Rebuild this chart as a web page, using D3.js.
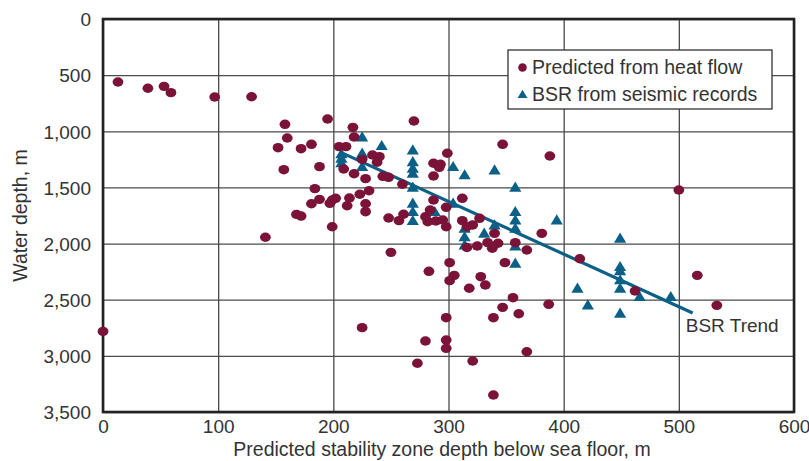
<!DOCTYPE html>
<html>
<head>
<meta charset="utf-8">
<script src="https://cdn.jsdelivr.net/npm/d3@7"></script>
<style>
  body { margin: 0; background: #fff; }
  text { font-family: "Liberation Sans Narrow", "Liberation Sans", sans-serif; fill: #333; }
</style>
</head>
<body>
<div id="chart"></div>
<script>
// heat-flow predictions: [stability zone depth (m), water depth (m)]
var heatFlow = [
  [0, 2782], [13, 561], [39, 617], [53, 600], [59, 656], [97, 695], [129, 692],
  [158, 938], [195, 891], [217, 965], [218, 1051], [160, 1060], [152, 1146],
  [172, 1155], [181, 1116], [157, 1342], [188, 1315], [205, 1137], [211, 1137],
  [225, 1250], [209, 1336], [218, 1378], [228, 1422], [234, 1211], [240, 1226],
  [238, 1276], [243, 1401], [248, 1410], [260, 1472], [270, 908], [184, 1511],
  [188, 1606], [181, 1645], [197, 1642], [199, 1612], [202, 1597], [214, 1594],
  [212, 1663], [223, 1561], [231, 1530], [228, 1645], [228, 1716], [168, 1740],
  [172, 1755], [199, 1850], [141, 1944], [248, 1772], [257, 1796], [261, 1739],
  [250, 2078], [299, 1196], [287, 1285], [293, 1294], [292, 1321], [287, 1398],
  [312, 1597], [298, 1677], [287, 1612], [284, 1701], [280, 1761], [282, 1805],
  [289, 1799], [295, 1790], [298, 1850], [312, 1796], [316, 1850], [321, 1834],
  [327, 1775], [316, 2035], [301, 2170], [283, 2247], [305, 2283], [301, 2330],
  [318, 2398], [347, 1116], [388, 1220], [340, 1909], [334, 1992], [338, 2042],
  [343, 1997], [325, 2022], [358, 1992], [368, 2057], [381, 1909], [414, 2135],
  [349, 2170], [328, 2295], [332, 2369], [356, 2482], [347, 2568], [361, 2625],
  [387, 2541], [339, 2660], [298, 2660], [280, 2868], [298, 2859], [298, 2933],
  [368, 2963], [462, 2422], [516, 2283], [533, 2550], [273, 3066], [321, 3046],
  [339, 3349], [500, 1523], [225, 2749]
];

// BSR picks from seismic records
var bsrSeismic = [
  [207, 1200], [207, 1240], [207, 1280],
  [225, 1051], [225, 1196], [225, 1315], [242, 1128],
  [269, 1167], [269, 1271], [269, 1330], [269, 1374], [269, 1499], [269, 1641],
  [269, 1716], [269, 1796], [288, 1716], [304, 1315], [304, 1641],
  [314, 1389], [314, 1864], [314, 1939], [314, 2013], [331, 1909], [340, 1835],
  [340, 1345], [358, 1499], [358, 1716], [358, 1790], [358, 1864], [358, 2022],
  [358, 2176], [394, 1790], [412, 2398], [421, 2547],
  [449, 1953], [449, 2206], [449, 2242], [449, 2324], [449, 2398], [449, 2621],
  [466, 2473], [493, 2473]
];

var bsrTrend = [[207, 1190], [512, 2618]];

var xTicks = [0, 100, 200, 300, 400, 500, 600];
var yTicks = [0, 500, 1000, 1500, 2000, 2500, 3000, 3500];

var W = 809, H = 461;
var RED = "#7b1339", BLUE = "#0b6088";

var svg = d3.select("#chart").append("svg")
  .attr("width", W)
  .attr("height", H);

var x = d3.scaleLinear().domain([0, 600]).range([103, 794]);
var y = d3.scaleLinear().domain([0, 3500]).range([19, 412]);

// grid + tick labels
var xAxis = svg.append("g")
  .attr("transform", "translate(0," + y(3500) + ")")
  .call(d3.axisBottom(x).tickValues(xTicks).tickSize(-(y(3500) - y(0))).tickPadding(8));
var yAxis = svg.append("g")
  .attr("transform", "translate(" + x(0) + ",0)")
  .call(d3.axisLeft(y).tickValues(yTicks).tickFormat(d3.format(",")).tickSize(-(x(600) - x(0))).tickPadding(12));

[xAxis, yAxis].forEach(function(g) {
  g.select(".domain").remove();
  g.selectAll(".tick line").attr("stroke", "#4a4a4a").attr("stroke-width", 1.3);
  g.selectAll(".tick text")
    .style("font-size", "19px")
    .style("font-family", '"Liberation Sans Narrow", "Liberation Sans", sans-serif')
    .attr("fill", "#333");
});
yAxis.selectAll(".tick text").attr("dy", "0.36em");

// frame
svg.append("rect")
  .attr("x", x(0))
  .attr("y", y(0))
  .attr("width", x(600) - x(0))
  .attr("height", y(3500) - y(0))
  .attr("fill", "none")
  .attr("stroke", "#222")
  .attr("stroke-width", 2.6);

// trend line
svg.append("path")
  .datum(bsrTrend)
  .attr("d", d3.line().x(function(d) { return x(d[0]); }).y(function(d) { return y(d[1]); }))
  .attr("stroke", BLUE)
  .attr("stroke-width", 3.2)
  .attr("fill", "none");

function tri(s) {
  return "M0," + (-s * 0.55) + "L" + (s * 0.58) + "," + (s * 0.42) + "L" + (-s * 0.58) + "," + (s * 0.42) + "Z";
}

svg.append("g").selectAll("path")
  .data(bsrSeismic)
  .enter().append("path")
  .attr("d", tri(10.5))
  .attr("transform", function(d) { return "translate(" + x(d[0]) + "," + y(d[1]) + ")"; })
  .attr("fill", BLUE);

svg.append("g").selectAll("ellipse")
  .data(heatFlow)
  .enter().append("ellipse")
  .attr("cx", function(d) { return x(d[0]); })
  .attr("cy", function(d) { return y(d[1]); })
  .attr("rx", 5.4)
  .attr("ry", 4.7)
  .attr("fill", RED);

svg.append("text")
  .attr("x", x(506))
  .attr("y", y(2788))
  .style("font-size", "19px")
  .text("BSR Trend");

// legend
var lg = svg.append("g").attr("transform", "translate(508,50)");
lg.append("rect")
  .attr("width", 264)
  .attr("height", 59)
  .attr("fill", "#fff")
  .attr("stroke", "#333")
  .attr("stroke-width", 1.3);
lg.append("circle").attr("cx", 14.5).attr("cy", 17.5).attr("r", 4.3).attr("fill", RED);
lg.append("path").attr("d", tri(8.5)).attr("transform", "translate(14.5,44.5)").attr("fill", BLUE);
lg.append("text").attr("x", 24).attr("y", 24).style("font-size", "19.5px").text("Predicted from heat flow");
lg.append("text").attr("x", 24).attr("y", 51).style("font-size", "19.5px").text("BSR from seismic records");

// axis titles
svg.append("text")
  .attr("x", 442)
  .attr("y", 456)
  .attr("text-anchor", "middle")
  .style("font-size", "19.5px")
  .text("Predicted stability zone depth below sea floor, m");

svg.append("text")
  .attr("transform", "translate(27," + ((y(0) + y(3500)) / 2) + ") rotate(-90)")
  .attr("text-anchor", "middle")
  .style("font-size", "19.5px")
  .text("Water depth, m");
</script>
</body>
</html>
